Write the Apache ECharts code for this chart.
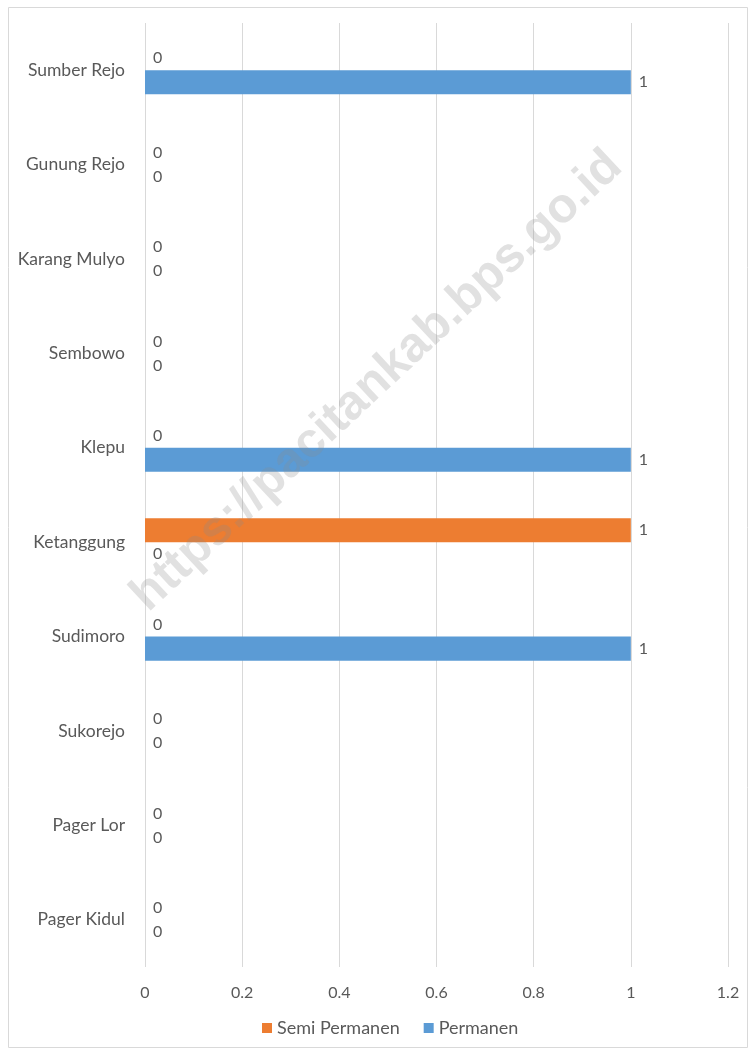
<!DOCTYPE html>
<html>
<head>
<meta charset="utf-8">
<script src="https://cdn.jsdelivr.net/npm/echarts@6/dist/echarts.min.js"></script>
<style>
  html, body { margin: 0; padding: 0; background: #fff; }
  #chart { width: 750px; height: 1050px; }
</style>
</head>
<body>
<div id="chart"></div>
<script>
var desa = ['Pager Kidul', 'Pager Lor', 'Sukorejo', 'Sudimoro', 'Ketanggung',
            'Klepu', 'Sembowo', 'Karang Mulyo', 'Gunung Rejo', 'Sumber Rejo'];
var semiPermanen = [0, 0, 0, 0, 1, 0, 0, 0, 0, 0];
var permanen     = [0, 0, 0, 1, 0, 1, 0, 0, 0, 1];
var xTicks = [0, 0.2, 0.4, 0.6, 0.8, 1, 1.2];

var font = 'Lato, "Open Sans", sans-serif';
var grey = '#595959';

var chart = echarts.init(document.getElementById('chart'));

function barSeries(name, data, color){
	return {
		name: name,
		type: 'bar',
		data: data,
		barGap: '0%',
		barCategoryGap: '49%',
		itemStyle: { color: color },
		label: {
			show: true,
			position: 'right',
			distance: 8,
			color: grey,
			fontFamily: font,
			fontSize: 16
		}
	};
}

chart.setOption({
	animation: false,
	textStyle: { fontFamily: font },
	grid: { left: 145, right: 22, top: 23, bottom: 83, containLabel: false },
	legend: {
		bottom: 8,
		left: 257,
		itemWidth: 10,
		itemHeight: 10,
		itemGap: 24,
		icon: 'rect',
		textStyle: { color: grey, fontSize: 18, fontFamily: font },
		data: ['Semi Permanen', 'Permanen']
	},
	xAxis: {
		type: 'value',
		min: xTicks[0],
		max: xTicks[xTicks.length - 1],
		interval: 0.2,
		axisLine: { show: false },
		axisTick: { show: false },
		splitLine: { lineStyle: { color: '#d9d9d9', width: 1 } },
		axisLabel: { color: grey, fontSize: 16, margin: 18, fontFamily: font }
	},
	yAxis: {
		type: 'category',
		data: desa,
		axisLine: { show: false },
		axisTick: { show: false },
		axisLabel: { color: grey, fontSize: 17.5, margin: 20, fontFamily: font }
	},
	series: [
		barSeries('Semi Permanen', semiPermanen, '#ed7d31'),
		barSeries('Permanen', permanen, '#5b9bd5')
	],
	graphic: [
		{
			type: 'rect',
			left: 6, top: 5,
			shape: { width: 739, height: 1040 },
			style: { fill: 'none', stroke: '#d9d9d9', lineWidth: 1 },
			z: -1
		},
		{
			type: 'text',
			x: 377, y: 381,
			rotation: Math.PI * 43 / 180,
			z: 100,
			style: {
				text: 'https://pacitankab.bps.go.id',
				fill: 'rgba(140,140,140,0.26)',
				font: 'bold 49px "Liberation Sans", Arial, sans-serif',
				align: 'center',
				verticalAlign: 'middle'
			}
		}
	]
});
</script>
</body>
</html>
